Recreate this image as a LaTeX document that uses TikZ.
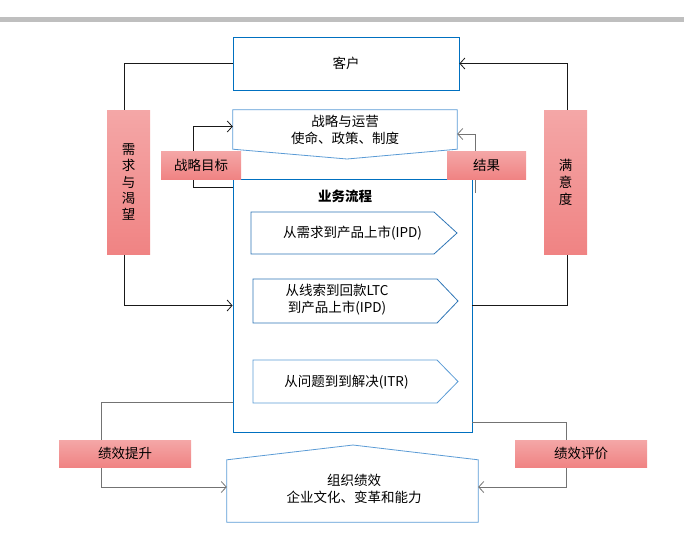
\documentclass[tikz,border=0pt]{standalone}
\usepackage{fontspec}
\setmainfont{Noto Sans CJK SC}
\usetikzlibrary{arrows.meta}
\definecolor{dblue}{HTML}{0070C0}
\definecolor{mblue}{HTML}{2E75B6}
\definecolor{lblue}{HTML}{5B9BD5}
\definecolor{pinkT}{HTML}{F4A7A7}
\definecolor{pinkB}{HTML}{F08383}
\definecolor{barg}{HTML}{BFBFBF}
\begin{document}
\begin{tikzpicture}[x=1pt,y=-1pt,
  txt/.style={font=\fontsize{13.5}{17}\selectfont, align=center, inner sep=0pt},
  conn/.style={line width=0.8pt, draw=black!90},
  gconn/.style={line width=0.8pt, draw=black!55},
  tip/.style={-{Straight Barb[length=5pt,width=11pt]}},
  pinklab/.style={top color=pinkT, bottom color=pinkB, draw=none, inner sep=0pt, txt}
]
\useasboundingbox (0,0) rectangle (684,544);
\fill[barg] (0,17) rectangle (684,22);

% customer
\node[draw=dblue, line width=0.8pt, minimum width=226pt, minimum height=53pt, txt] (kehu) at (346,63.5) {客户};

% strategy & operation
\node[minimum width=224pt, minimum height=39pt, inner sep=0pt] (zl) at (345,129.5) {};
\draw[lblue, line width=0.8pt] (zl.south west) -- (zl.north west) -- (zl.north east) -- (zl.south east) -- (347,159) -- cycle;
\node[txt] (zltxt) at (345,130) {战略与运营\\使命、政策、制度};

% business process box
\node[draw=dblue, line width=0.8pt, minimum width=239pt, minimum height=253pt, inner sep=0pt] (biz) at (352.5,305.5) {};
\node[txt, font=\fontsize{13.5}{17}\selectfont\bfseries] (biztitle) at (345,196) {业务流程};

% pentagons
\draw[mblue, line width=0.8pt] (251,212) -- (434,212) -- (457,233) -- (434,254) -- (251,254) -- cycle;
\node[txt] (p1) at (352.5,233) {从需求到产品上市(IPD)};
\draw[mblue, line width=0.8pt] (253,279) -- (437,279) -- (458,301) -- (437,323) -- (253,323) -- cycle;
\node[txt] (p2) at (337,299.5) {从线索到回款LTC\\到产品上市(IPD)};
\draw[lblue, line width=0.8pt] (253,360) -- (437,360) -- (458,381.5) -- (437,403) -- (253,403) -- cycle;
\node[txt] (p3) at (346.5,382.5) {从问题到到解决(ITR)};

% organisational performance
\node[minimum width=251pt, minimum height=62pt, inner sep=0pt] (zz) at (352.5,491) {};
\draw[lblue, line width=0.8pt] (zz.south west) -- (zz.north west) -- (353,445) -- (zz.north east) -- (zz.south east) -- cycle;
\node[txt] (zztxt) at (354,488.5) {组织绩效\\企业文化、变革和能力};

% side bars (positions only, drawn later)
\node[minimum width=43pt, minimum height=144pt, inner sep=0pt] (xq) at (128.5,182) {};
\node[minimum width=43pt, minimum height=144pt, inner sep=0pt] (myd) at (565.5,182) {};

% connectors
\draw[conn] (kehu.west) -| ([xshift=-4.5pt]xq.north);
\draw[conn, tip] ([xshift=-4.5pt]xq.south) |- (biz.west);
\draw[conn, tip] ([xshift=2pt]myd.north) |- (kehu.east);
\draw[conn] ([xshift=2pt]myd.south) |- (biz.east);

\draw[conn, tip] ([yshift=-9pt]biz.north west) -- ++(-39,0) |- ([yshift=3pt]zl.west);
\coordinate (jgstart) at (475,193);
\draw[gconn, tip] (jgstart) |- ([yshift=-4.5pt]zl.east);

\draw[gconn, tip] ([yshift=30pt]biz.south west) -- ++(-131,0) |- ([yshift=4pt]zz.west);
\draw[gconn, tip] ([yshift=10pt]biz.south east) -- ++(94,0) |- ([yshift=4pt]zz.east);

% pink labels
\node[pinklab, minimum width=43pt, minimum height=144pt, font=\fontsize{13.5}{16.3}\selectfont] (xqlab) at (xq) {需\\求\\与\\渴\\望};
\node[pinklab, minimum width=43pt, minimum height=144pt, font=\fontsize{13.5}{17}\selectfont] (mydlab) at (myd) {满\\意\\度};
\node[pinklab, minimum width=80pt, minimum height=28pt] (zlmb) at (201,165) {战略目标};
\node[pinklab, minimum width=79pt, minimum height=28pt] (jg) at (486.5,165) {结果};
\node[pinklab, minimum width=132pt, minimum height=27pt] (jxts) at (125,453.5) {绩效提升};
\node[pinklab, minimum width=132pt, minimum height=27pt] (jxpj) at (581,453.5) {绩效评价};
\end{tikzpicture}
\end{document}
